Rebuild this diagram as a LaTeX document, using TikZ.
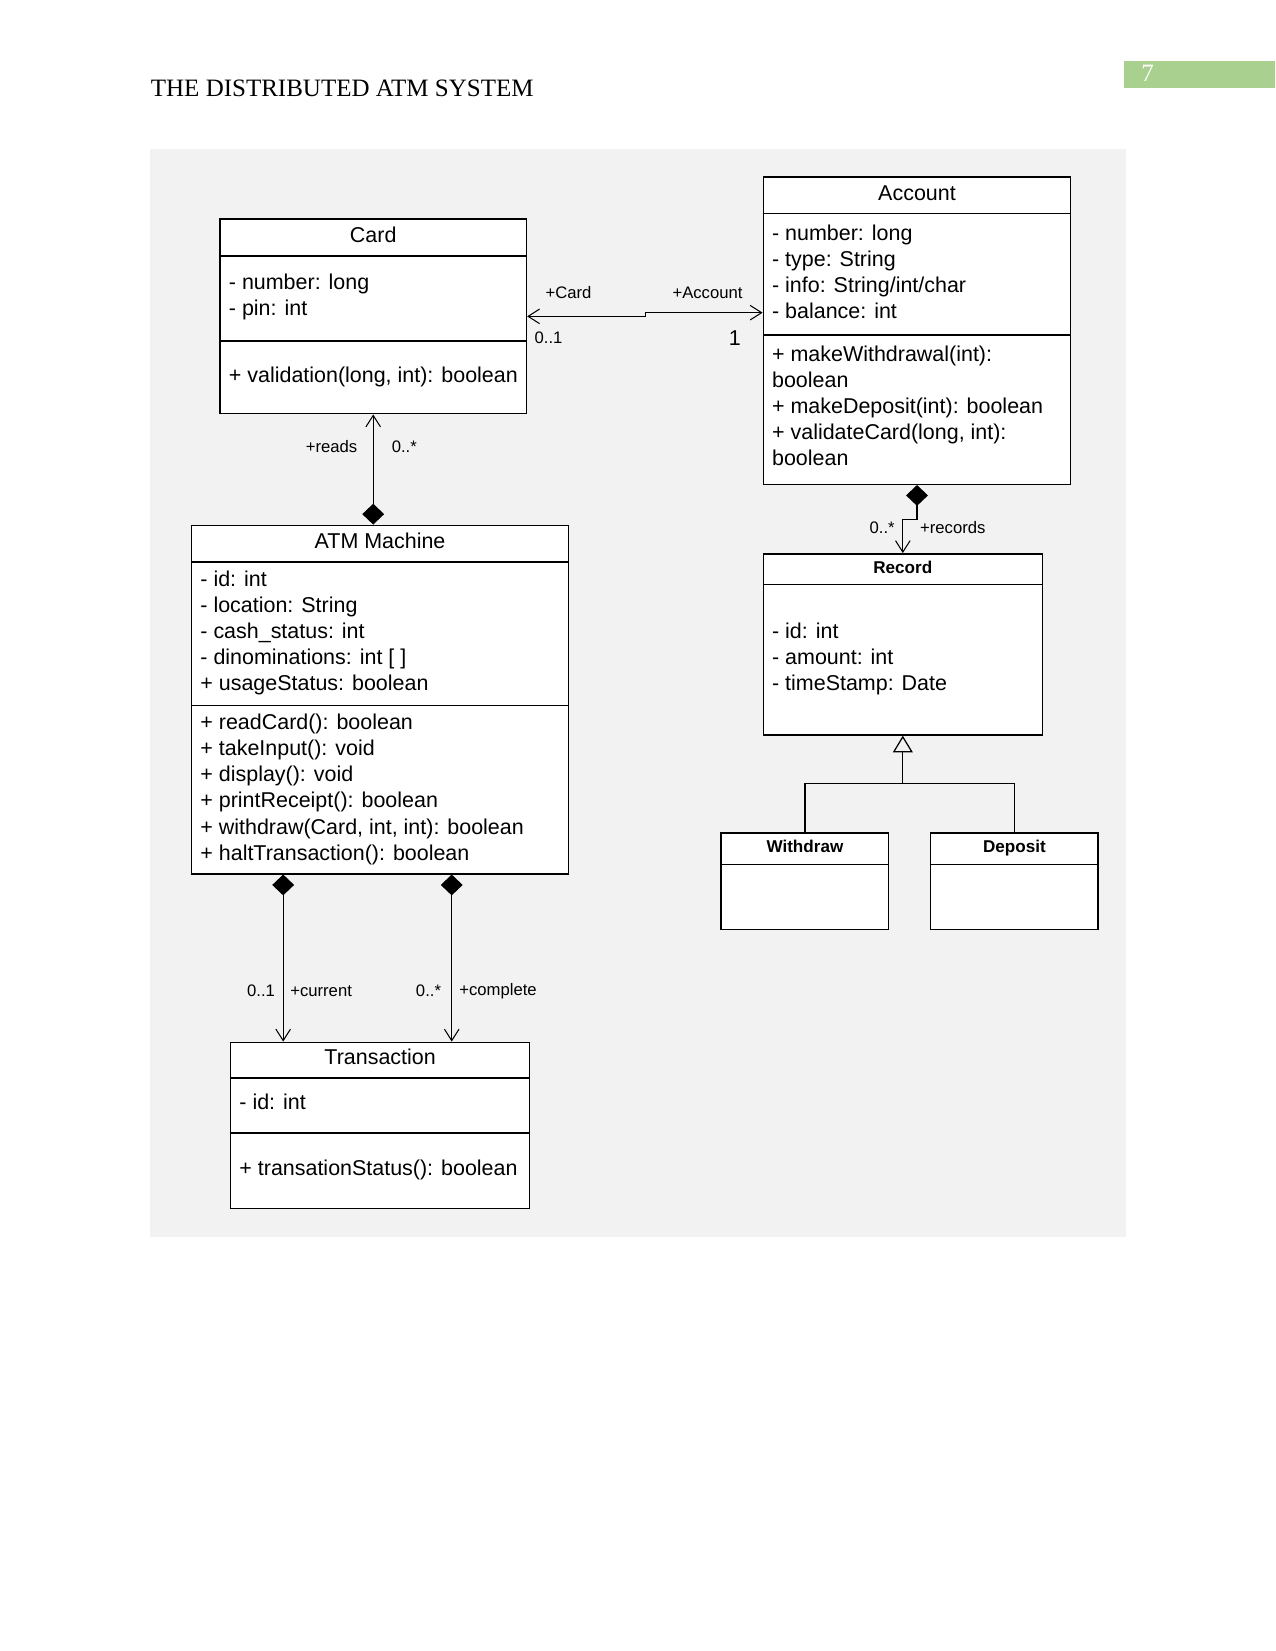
\documentclass[tikz,border=0pt]{standalone}
\usepackage{fontspec}
\setmainfont{Liberation Serif}
\newfontfamily\umlsans{Liberation Sans}
\usepackage{xcolor}
\definecolor{PanelGray}{RGB}{242,242,242}
\definecolor{HeadGreen}{RGB}{169,208,142}
\usetikzlibrary{arrows.meta, positioning, fit}

\begin{document}
\begin{tikzpicture}[
    x=0.48pt, y=-0.48pt,
    cls/.style={draw, fill=white, line width=0.7pt, inner sep=0pt},
    divider/.style={line width=0.7pt},
    ttl/.style={font=\umlsans\fontsize{10.3}{12.5}\selectfont, inner sep=0pt,
                text height=7.4pt, text depth=0pt},
    bttl/.style={font=\umlsans\bfseries\fontsize{8.2}{10}\selectfont, inner sep=0pt,
                 text height=5.9pt, text depth=0pt},
    mbr/.style={anchor=north west, inner sep=0pt, align=left,
                font=\umlsans\fontsize{10.3}{12.5}\selectfont},
    lbl/.style={font=\umlsans\fontsize{8}{9.6}\selectfont, inner sep=0pt},
    assoc/.style={line width=0.5pt,
                  {Straight Barb[length=5.5pt,width=7pt]}-{Straight Barb[length=5.5pt,width=7pt]}},
    comp/.style={line width=0.5pt,
                 {Diamond[length=10pt,width=10.5pt]}-{Straight Barb[length=5.5pt,width=7pt]}},
    inh/.style={line width=0.6pt, -{Triangle[open,length=8pt,width=9.5pt]}}
  ]
  \useasboundingbox (0,0) rectangle (1275,1651);

  % page header
  \node[anchor=base west, inner sep=0pt, font=\fontsize{12}{14}\selectfont] (header) at (150.5,97) {THE DISTRIBUTED ATM SYSTEM};
  \node[fill=HeadGreen, inner sep=0pt, fit={(1124.4,61) (1275,88.4)}] (pagebox) {};
  \node[anchor=base west, inner sep=0pt, text=white, font=\fontsize{12}{14}\selectfont] (pagenum) at (1141,82) {7};

  % figure panel
  \node[fill=PanelGray, inner sep=0pt, fit={(149.5,149.5) (1125.5,1237)}] (panel) {};

  % Card
  \node[cls, fit={(220,219) (526.4,413.7)}] (card) {};
  \draw[divider] (card.west |- 0,255.8) -- (card.east |- 0,255.8);
  \draw[divider] (card.west |- 0,341.1) -- (card.east |- 0,341.1);
  \node[ttl] (card-name) at (card.north |- 0,234.8) {Card};
  \node[mbr] (card-attr) at (228.5,271) {\strut- number: long\\- pin: int};
  \node[mbr] (card-ops) at (228.5,363.8) {\strut+ validation(long, int): boolean};

  % Account
  \node[cls, fit={(763.3,176.9) (1070.7,484.3)}] (acc) {};
  \draw[divider] (acc.west |- 0,213.7) -- (acc.east |- 0,213.7);
  \draw[divider] (acc.west |- 0,334.8) -- (acc.east |- 0,334.8);
  \node[ttl] (acc-name) at (acc.north |- 0,192.7) {Account};
  \node[mbr] (acc-attr) at (771.7,221.7) {\strut- number: long\\- type: String\\- info: String/int/char\\- balance: int};
  \node[mbr] (acc-ops) at (771.7,342.7) {\strut+ makeWithdrawal(int):\\boolean\\+ makeDeposit(int): boolean\\+ validateCard(long, int):\\boolean};

  % ATM Machine
  \node[cls, fit={(191.6,525.3) (568.5,873.8)}] (atm) {};
  \draw[divider] (atm.west |- 0,562.2) -- (atm.east |- 0,562.2);
  \draw[divider] (atm.west |- 0,705.4) -- (atm.east |- 0,705.4);
  \node[ttl] (atm-name) at (atm.north |- 0,541) {ATM Machine};
  \node[mbr] (atm-attr) at (200,568) {\strut- id: int\\- location: String\\- cash\_status: int\\- dinominations: int [ ]\\+ usageStatus: boolean};
  \node[mbr] (atm-ops) at (200,711.2) {\strut+ readCard(): boolean\\+ takeInput(): void\\+ display(): void\\+ printReceipt(): boolean\\+ withdraw(Card, int, int): boolean\\+ haltTransaction(): boolean};

  % Transaction
  \node[cls, fit={(230.6,1042.3) (529.6,1208.6)}] (trn) {};
  \draw[divider] (trn.west |- 0,1078) -- (trn.east |- 0,1078);
  \draw[divider] (trn.west |- 0,1132.8) -- (trn.east |- 0,1132.8);
  \node[ttl] (trn-name) at (trn.north |- 0,1057) {Transaction};
  \node[mbr] (trn-attr) at (239,1091.3) {\strut- id: int};
  \node[mbr] (trn-ops) at (239,1156.6) {\strut+ transationStatus(): boolean};

  % Record
  \node[cls, fit={(763.3,553.8) (1042.3,734.9)}] (rec) {};
  \draw[divider] (rec.west |- 0,584.3) -- (rec.east |- 0,584.3);
  \node[bttl] (rec-name) at (rec.north |- 0,567.5) {Record};
  \node[mbr] (rec-attr) at (771.7,619.6) {\strut- id: int\\- amount: int\\- timeStamp: Date};

  % Withdraw and Deposit
  \node[cls, fit={(721.2,832.8) (888.6,929.6)}] (wd) {};
  \draw[divider] (wd.west |- 0,864.4) -- (wd.east |- 0,864.4);
  \node[bttl] (wd-name) at (wd.north |- 0,846.5) {Withdraw};
  \node[cls, fit={(930.7,832.8) (1098.1,929.6)}] (dp) {};
  \draw[divider] (dp.west |- 0,864.4) -- (dp.east |- 0,864.4);
  \node[bttl] (dp-name) at (dp.north |- 0,846.5) {Deposit};

  % associations
  \draw[assoc] (card.east) -- ++(118.3,0) |- ([yshift=8.6pt]acc.west);
  \node[lbl] (l-card) at (568.5,292.7) {+Card};
  \node[lbl] (l-acc) at (707.5,292.7) {+Account};
  \node[lbl] (m-card) at (548.5,338) {0..1};
  \node[ttl] (m-acc) at (734.9,338) {1};

  \draw[comp] (card.south |- atm.north) -- (card.south);
  \node[lbl] (l-reads) at (331.6,446.4) {+reads};
  \node[lbl] (m-reads) at (404.3,446.4) {0..*};

  \draw[comp] (acc.south) -- ++(0,34) -| (rec.north);
  \node[lbl] (m-rec) at (882.2,527.5) {0..*};
  \node[lbl] (l-rec) at (952.8,527.5) {+records};

  \draw[comp] ([xshift=-46.5pt]atm.south) -- ([xshift=-46.5pt]atm.south |- trn.north);
  \node[lbl] (m-cur) at (261.1,990.7) {0..1};
  \node[lbl] (l-cur) at (321.1,990.7) {+current};
  \draw[comp] ([xshift=34.4pt]atm.south) -- ([xshift=34.4pt]atm.south |- trn.north);
  \node[lbl] (m-done) at (428.5,990.7) {0..*};
  \node[lbl] (l-done) at (498,990.7) {+complete};

  % generalisation
  \coordinate (junc) at (rec.south |- 0,783.3);
  \draw[line width=0.6pt] (wd.north) |- (junc) -| (dp.north);
  \draw[inh] (junc) -- (rec.south);
\end{tikzpicture}
\end{document}
